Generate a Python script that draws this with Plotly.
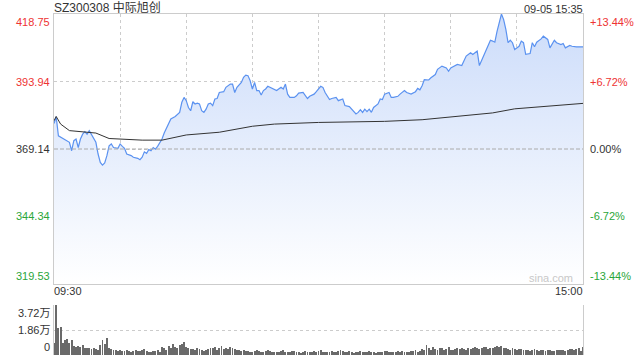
import plotly.graph_objects as go

# ---------------- data ----------------
title_text = "SZ300308 中际旭创"
stamp_text = "09-05 15:35"
prev_close = 369.14
price_ticks = [418.75, 393.94, 369.14, 344.34, 319.53]
price_tick_labels = ["418.75", "393.94", "369.14", "344.34", "319.53"]
pct_tick_labels = ["+13.44%", "+6.72%", "0.00%", "-6.72%", "-13.44%"]
time_labels = ["09:30", "15:00"]
vol_ticks = [3.72, 1.86, 0]
vol_tick_labels = ["3.72万", "1.86万", "0"]

# minute index (0 = 09:30, 240 = 15:00) and price
price_min = [0, 1, 2, 4, 6, 7, 8, 9, 10, 11, 12, 13, 14, 15, 16, 17, 18, 19, 20, 21,
             22, 23, 24, 25, 26, 27, 29, 30, 31, 32, 33, 35, 36, 38, 39, 40, 41, 42, 43, 44,
             45, 46, 47, 48, 49, 50, 52, 53, 55, 56, 57, 58, 59, 60, 61, 62, 63, 64, 65, 66,
             67, 68, 69, 70, 71, 72, 73, 74, 75, 77, 78, 80, 81, 82, 83, 85, 86, 87, 88, 89,
             90, 91, 92, 93, 94, 95, 96, 97, 99, 100, 101, 103, 104, 105, 106, 107, 109, 110, 111, 113,
             114, 115, 116, 118, 119, 121, 122, 123, 125, 126, 128, 129, 131, 132, 134, 135, 136, 137, 138, 139,
             140, 141, 142, 143, 144, 145, 147, 148, 149, 150, 152, 153, 154, 156, 157, 159, 160, 161, 162, 164,
             165, 166, 167, 168, 170, 171, 173, 174, 176, 178, 179, 180, 182, 183, 185, 186, 187, 189, 190, 191,
             192, 193, 195, 196, 198, 199, 200, 201, 202, 203, 204, 205, 206, 207, 208, 209, 211, 212, 213, 214,
             216, 217, 218, 219, 221, 222, 224, 225, 227, 228, 230, 231, 232, 234, 235, 237, 240]
price_val = [378.5, 381.0, 374.0, 373.0, 371.8, 371.6, 368.5, 372.2, 372.8, 369.7, 372.8, 374.6, 375.5, 374.6, 375.9, 374.6, 373.4, 371.6, 367.3, 364.2,
             363.2, 364.0, 366.7, 370.3, 371.0, 369.7, 369.4, 371.0, 370.1, 369.4, 367.3, 366.7, 366.1, 365.7, 365.2, 366.1, 368.1, 367.5, 368.9, 368.5,
             369.7, 369.1, 370.1, 371.6, 372.8, 375.0, 378.3, 380.2, 381.1, 382.0, 382.6, 386.3, 388.1, 386.9, 384.4, 383.2, 386.5, 385.7, 386.0, 385.7,
             383.2, 382.6, 383.8, 385.7, 386.0, 385.1, 387.5, 387.7, 389.9, 390.2, 391.8, 393.0, 393.0, 389.9, 391.8, 393.6, 395.5, 396.3, 396.1, 394.2,
             391.2, 393.6, 390.6, 390.6, 389.0, 390.6, 391.2, 392.2, 391.4, 391.2, 390.6, 391.8, 391.2, 393.0, 389.3, 388.1, 388.1, 388.7, 389.7, 389.9,
             389.0, 387.7, 388.5, 389.3, 390.2, 392.2, 391.8, 389.9, 387.3, 387.7, 388.1, 386.9, 387.5, 385.1, 384.7, 383.8, 382.9, 382.0, 382.6, 383.6,
             382.6, 383.8, 382.9, 383.8, 382.6, 384.4, 385.7, 387.5, 387.3, 389.3, 389.9, 388.1, 388.1, 388.5, 389.3, 390.6, 389.9, 389.7, 389.3, 390.2,
             391.4, 390.9, 392.4, 394.6, 394.5, 395.3, 396.5, 398.4, 399.6, 398.9, 397.7, 398.9, 399.6, 400.2, 399.8, 401.4, 403.3, 404.5, 403.9, 404.5,
             405.1, 399.8, 403.3, 405.7, 409.1, 408.8, 408.4, 412.4, 415.5, 418.75, 416.7, 413.1, 408.2, 409.1, 408.2, 405.7, 406.9, 408.8, 408.2, 403.9,
             404.2, 408.2, 406.7, 408.4, 409.6, 410.6, 409.4, 406.3, 409.1, 408.2, 407.5, 407.9, 406.3, 407.2, 406.9, 406.7, 406.7]

avg_min = [0, 1, 3, 7, 19, 25, 40, 49, 60, 75, 90, 100, 120, 150, 167, 181, 199, 209, 226, 240]
avg_val = [379.5, 381.1, 378.3, 375.9, 375.0, 373.0, 372.4, 372.4, 374.3, 375.3, 377.5, 378.3, 378.9, 379.3, 379.9,
           381.0, 382.4, 383.9, 384.9, 385.9]

# volume per minute, in 万 shares
volume = [0.87, 3.72, 2.0, 2.05, 0.9, 1.1, 1.2, 0.9, 1.1, 0.65, 0.6,
          0.67, 0.62, 0.75, 0.55, 0.5, 0.52, 0.45, 0.5, 0.42, 0.38,
          0.75, 1.1, 0.85, 1.25, 0.5, 0.42, 0.4, 0.35, 0.3, 0.38,
          0.3, 0.28, 0.35, 0.3, 0.25, 0.32, 0.4, 0.3, 0.28, 0.35,
          0.45, 0.3, 0.25, 0.22, 0.3, 0.28, 0.35, 0.25, 0.6, 0.55,
          0.4, 0.65, 0.55, 0.8, 0.6, 0.5, 0.75, 0.85, 0.95, 0.6,
          0.5, 0.45, 0.48, 0.4, 0.52, 0.45, 0.38, 0.3, 0.35, 0.42,
          0.5, 0.55, 0.6, 0.4, 0.5, 0.65, 0.45, 0.5, 0.42, 0.6,
          0.55, 0.48, 0.4, 0.35, 0.3, 0.38, 0.28, 0.3, 0.25, 0.22,
          0.3, 0.35, 0.28, 0.22, 0.25, 0.3, 0.4, 0.28, 0.25, 0.22,
          0.2, 0.25, 0.3, 0.35, 0.22, 0.2, 0.25, 0.28, 0.3, 0.22,
          0.2, 0.18, 0.25, 0.3, 0.22, 0.2, 0.25, 0.28, 0.22, 0.3,
          0.35, 0.25, 0.22, 0.2, 0.25, 0.3, 0.2, 0.22, 0.28, 0.35,
          0.3, 0.25, 0.22, 0.28, 0.2, 0.18, 0.22, 0.25, 0.3, 0.22,
          0.2, 0.25, 0.28, 0.22, 0.2, 0.18, 0.22, 0.25, 0.2, 0.28,
          0.3, 0.25, 0.22, 0.2, 0.25, 0.28, 0.22, 0.3, 0.25, 0.2,
          0.22, 0.28, 0.3, 0.35, 0.25, 0.3, 0.45, 0.4, 0.75, 0.55,
          0.4, 0.6, 0.45, 0.38, 0.5, 0.55, 0.35, 0.42, 0.6, 0.4,
          0.38, 0.45, 0.5, 0.42, 0.55, 0.48, 0.4, 0.5, 0.45, 0.52,
          0.6, 0.55, 0.45, 0.5, 0.62, 0.58, 0.45, 0.5, 0.55, 0.6,
          0.65, 0.62, 0.7, 0.55, 0.5, 0.45, 0.4, 0.5, 0.45, 0.38,
          0.45, 0.42, 0.35, 0.4, 0.38, 0.3, 0.35, 0.42, 0.38, 0.32,
          0.35, 0.4, 0.3, 0.35, 0.38, 0.32, 0.3, 0.35, 0.4, 0.38,
          0.35, 0.3, 0.4, 0.45, 0.42, 0.38, 0.45, 0.5, 0.3, 0.6]
vol_min = list(range(len(volume)))

# ---------------- styling ----------------
FONT = "Liberation Sans, Arial, Noto Sans CJK SC, sans-serif"
RED = "#ee3333"
GREEN = "#2aa63a"
DARK = "#333333"
GRID = "#cccccc"
label_colors = [RED, RED, DARK, GREEN, GREEN]

fig = go.Figure()

fig.add_trace(go.Scatter(
    x=price_min, y=price_val, mode="lines",
    line=dict(color="#5b92f0", width=1.2),
    fill="tozeroy",
    fillgradient=dict(type="vertical",
                      colorscale=[[0, "rgba(255,255,255,1)"], [1, "rgba(204,220,250,1)"]],
                      start=price_ticks[-1], stop=price_ticks[0]),
    hoverinfo="skip", xaxis="x", yaxis="y"))

fig.add_trace(go.Scatter(
    x=avg_min, y=avg_val, mode="lines",
    line=dict(color="#333333", width=1),
    hoverinfo="skip", xaxis="x", yaxis="y"))

fig.add_trace(go.Bar(
    x=vol_min, y=volume, width=0.42,
    marker=dict(color="#6a6a6a", line=dict(width=0)),
    hoverinfo="skip", xaxis="x2", yaxis="y2"))

main_bottom = 0.2082
vol_top = 0.1466

fig.update_layout(
    width=640, height=360,
    margin=dict(l=54, r=57, t=14, b=5),
    paper_bgcolor="white", plot_bgcolor="rgba(0,0,0,0)",
    showlegend=False, bargap=0,
    font=dict(family=FONT, size=11, color=DARK),
    xaxis=dict(domain=[0, 1], range=[0, 240], tickvals=list(range(0, 241, 30)),
               showticklabels=False, showgrid=True, gridcolor=GRID, griddash="dot", gridwidth=1,
               showline=True, linecolor=GRID, linewidth=1, mirror=True, zeroline=False,
               anchor="y", fixedrange=True),
    yaxis=dict(domain=[main_bottom, 1], range=[price_ticks[-1], price_ticks[0]],
               tickvals=price_ticks, showticklabels=False,
               showgrid=True, gridcolor=GRID, griddash="dot", gridwidth=1,
               showline=True, linecolor=GRID, linewidth=1, mirror=True, zeroline=False,
               anchor="x"),
    xaxis2=dict(domain=[0, 1], range=[0, 240], showticklabels=False, showgrid=False,
                zeroline=False, showline=False, anchor="y2"),
    yaxis2=dict(domain=[0, vol_top], range=[0, vol_ticks[0]], tickvals=vol_ticks[:2],
                showticklabels=False, showgrid=True, gridcolor=GRID, griddash="dot",
                showline=True, linecolor=GRID, linewidth=1, mirror=True, zeroline=False,
                anchor="x2"),
)

# previous close dashed line
fig.add_shape(type="line", xref="x domain", yref="y", x0=0, x1=1, y0=prev_close, y1=prev_close,
              line=dict(color="#aaaaaa", width=1, dash="4px,2px"))

anns = []
anchors = ["top", "middle", "middle", "middle", "bottom"]
for v, lab, pct, col, anc in zip(price_ticks, price_tick_labels, pct_tick_labels, label_colors, anchors):
    anns.append(dict(x=0, xref="paper", y=v, yref="y", text=lab, showarrow=False,
                     xanchor="right", yanchor=anc, xshift=-2, font=dict(color=col, size=11)))
    anns.append(dict(x=1, xref="paper", y=v, yref="y", text=pct, showarrow=False,
                     xanchor="left", yanchor=anc, xshift=5, font=dict(color=col, size=11)))

vol_anchors = ["top", "middle", "bottom"]
for v, lab, anc in zip(vol_ticks, vol_tick_labels, vol_anchors):
    anns.append(dict(x=0, xref="paper", y=v, yref="y2", text=lab, showarrow=False,
                     xanchor="right", yanchor=anc, xshift=-2, font=dict(color=DARK, size=11)))

anns.append(dict(x=0, xref="paper", y=1, yref="paper", text=title_text, showarrow=False,
                 xanchor="left", yanchor="bottom", xshift=-2, yshift=-3,
                 font=dict(color=DARK, size=12)))
anns.append(dict(x=1, xref="paper", y=1, yref="paper", text=stamp_text, showarrow=False,
                 xanchor="right", yanchor="bottom", xshift=2, yshift=-3,
                 font=dict(color=DARK, size=11)))
anns.append(dict(x=0, xref="x", y=main_bottom, yref="paper", text=time_labels[0], showarrow=False,
                 xanchor="left", yanchor="top", xshift=-2, yshift=1, font=dict(color=DARK, size=11)))
anns.append(dict(x=240, xref="x", y=main_bottom, yref="paper", text=time_labels[1], showarrow=False,
                 xanchor="right", yanchor="top", xshift=2, yshift=1, font=dict(color=DARK, size=11)))
anns.append(dict(x=1, xref="paper", y=main_bottom, yref="paper", text="sina.com", showarrow=False,
                 xanchor="right", yanchor="bottom", xshift=-8, yshift=-2,
                 font=dict(color="#c8c8c8", size=11)))

fig.update_layout(annotations=anns)

fig.write_html("out.html")
